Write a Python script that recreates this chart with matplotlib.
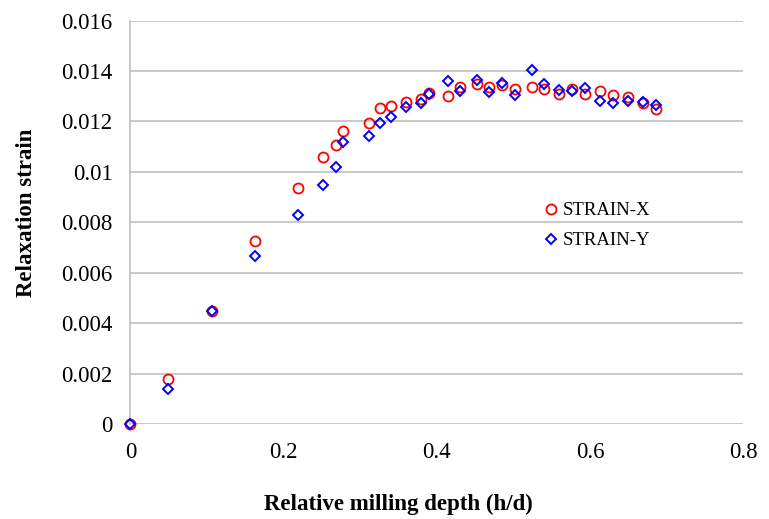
import matplotlib
matplotlib.use("Agg")
import matplotlib.pyplot as plt
from matplotlib.lines import Line2D

depth = [0, 0.049, 0.106, 0.162, 0.219, 0.252, 0.268, 0.278, 0.311, 0.326,
         0.340, 0.360, 0.380, 0.390, 0.415, 0.431, 0.452, 0.468, 0.485, 0.502,
         0.525, 0.540, 0.560, 0.577, 0.594, 0.613, 0.630, 0.650, 0.669, 0.687]
strain_x = [0, 0.00178, 0.00448, 0.00727, 0.00935, 0.01059, 0.01106, 0.01162, 0.01192, 0.01253,
            0.01260, 0.01278, 0.01288, 0.01312, 0.01299, 0.01337, 0.01349, 0.01338, 0.01344, 0.01329,
            0.01335, 0.01330, 0.01309, 0.01327, 0.01308, 0.01321, 0.01305, 0.01296, 0.01272, 0.01250]
strain_y = [0, 0.00140, 0.00448, 0.00665, 0.00830, 0.00950, 0.01020, 0.01117, 0.01142, 0.01193,
            0.01216, 0.01257, 0.01275, 0.01310, 0.01361, 0.01320, 0.01366, 0.01316, 0.01352, 0.01305,
            0.01404, 0.01348, 0.01324, 0.01321, 0.01332, 0.01282, 0.01272, 0.01280, 0.01276, 0.01267]

x_ticks = [0, 0.2, 0.4, 0.6, 0.8]
x_tick_labels = ["0", "0.2", "0.4", "0.6", "0.8"]
y_ticks = [0, 0.002, 0.004, 0.006, 0.008, 0.01, 0.012, 0.014, 0.016]
y_tick_labels = ["0", "0.002", "0.004", "0.006", "0.008", "0.01", "0.012", "0.014", "0.016"]

plt.rcParams['font.family'] = ['Liberation Serif', 'DejaVu Serif']

fig = plt.figure(figsize=(7.69, 5.19), dpi=100)
ax = fig.add_axes([0.1697, 0.1825, 0.7965, 0.778])

grid_c = '#BFBFBF'
for yv in y_ticks:
    ax.axhline(yv, color=grid_c, lw=1.2, zorder=1)

ax.plot(depth, strain_x, linestyle='none', marker='o', ms=7.2, mfc='none',
        mec='#FF0000', mew=1.3, zorder=3, clip_on=False)
ax.plot(depth, strain_y, linestyle='none', marker='D', ms=4.7, mfc='none',
        mec='#0000FF', mew=1.4, zorder=4, clip_on=False)

ax.set_xlim(0, 0.8)
ax.set_ylim(0, 0.016)
ax.set_xticks(x_ticks)
ax.set_xticklabels(x_tick_labels)
ax.set_yticks(y_ticks)
ax.set_yticklabels(y_tick_labels)
ax.tick_params(axis='both', length=0, labelsize=16.5, colors='black')
ax.tick_params(axis='y', pad=13)
ax.tick_params(axis='x', pad=13)

for s in ['top', 'right', 'bottom']:
    ax.spines[s].set_visible(False)
ax.spines['left'].set_color(grid_c)
ax.spines['left'].set_linewidth(1.2)

fig.text(0.518, 0.028, "Relative milling depth (h/d)", fontsize=16.5,
         fontweight='bold', ha='center', va='center')
fig.text(0.034, 0.59, "Relaxation strain", fontsize=16.5, fontweight='bold',
         rotation=90, ha='center', va='center')

handles = [
    Line2D([], [], linestyle='none', marker='o', ms=7.2, mfc='none', mec='#FF0000', mew=1.3),
    Line2D([], [], linestyle='none', marker='D', ms=4.7, mfc='none', mec='#0000FF', mew=1.4),
]
leg = ax.legend(handles, ["STRAIN-X", "STRAIN-Y"], loc='upper left',
                bbox_to_anchor=(0.678, 0.55), frameon=False, fontsize=13.5,
                handlelength=0.6, handletextpad=0.3, labelspacing=0.68,
                borderaxespad=0, borderpad=0)

fig.savefig("out.png", dpi=100)
